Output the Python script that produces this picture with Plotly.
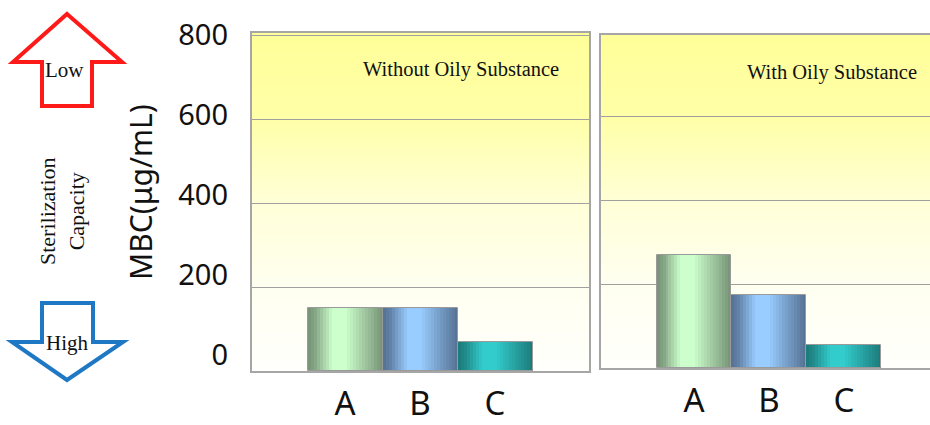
import plotly.graph_objects as go

# ---- data -------------------------------------------------------------
categories = ["A", "B", "C"]
mbc_without_oil = [150, 150, 70]     # MBC (µg/mL), no oily substance
mbc_with_oil = [270, 175, 55]        # MBC (µg/mL), with oily substance
y_ticks = [0, 200, 400, 600, 800]
panel_titles = ["Without Oily Substance", "With Oily Substance"]

# ---- canvas helpers (pixel -> paper fraction) ------------------------
W, H = 930, 425


def px(x):
    return x / W


def py(y):
    return 1 - y / H


# ---- cylinder-like bar shading --------------------------------------
bar_dark = {"A": (118, 146, 118), "B": (84, 112, 146), "C": (28, 122, 122)}
bar_light = {"A": (204, 255, 204), "B": (153, 204, 255), "C": (51, 204, 204)}
shade_profile = [(0.0, 0.0), (0.1, 0.2), (0.33, 1.0), (0.5, 1.0),
                 (0.8, 0.4), (1.0, 0.0)]


def shade(u):
    for (u0, s0), (u1, s1) in zip(shade_profile, shade_profile[1:]):
        if u <= u1:
            return s0 + (s1 - s0) * (u - u0) / (u1 - u0)
    return shade_profile[-1][1]


def mix(c0, c1, t):
    return "rgb(%d,%d,%d)" % tuple(round(a + (b - a) * t) for a, b in zip(c0, c1))


N_STRIPS = 25
x_pos = list(range(len(categories)))

fig = go.Figure()

panels = [(mbc_without_oil, "x", "y"), (mbc_with_oil, "x2", "y2")]
for values, xa, ya in panels:
    for k in range(N_STRIPS):
        t = shade((k + 0.5) / N_STRIPS)
        w = min(1.6 / N_STRIPS, 1 - k / N_STRIPS)
        fig.add_trace(go.Bar(
            x=x_pos, y=values, width=w, offset=-0.5 + k / N_STRIPS,
            marker=dict(color=[mix(bar_dark[c], bar_light[c], t) for c in categories],
                        line_width=0),
            xaxis=xa, yaxis=ya, showlegend=False, hoverinfo="skip"))
    # outline of each bar
    fig.add_trace(go.Bar(
        x=x_pos, y=values, width=1, offset=-0.5,
        marker=dict(color="rgba(0,0,0,0)", line=dict(color="#9A9A9A", width=1)),
        customdata=categories, hovertemplate="%{customdata}: %{y}<extra></extra>",
        xaxis=xa, yaxis=ya, showlegend=False))

# carrier trace for the shared tick-label axis
fig.add_trace(go.Scatter(x=[], y=[], xaxis="x", yaxis="y3", showlegend=False))

# ---- vertical yellow-to-white panel backgrounds -----------------------
bg_stops = [(0.0, 252), (0.25, 240), (0.5, 215), (0.75, 168), (1.0, 153)]


def bg_color(f):
    for (f0, b0), (f1, b1) in zip(bg_stops, bg_stops[1:]):
        if f <= f1:
            b = b0 + (b1 - b0) * (f - f0) / (f1 - f0)
            return "rgb(255,255,%d)" % round(b)
    return "rgb(255,255,%d)" % bg_stops[-1][1]


N_BANDS = 70
shapes = []
for xr, yr in [("x domain", "y domain"), ("x2 domain", "y2 domain")]:
    for i in range(N_BANDS):
        f0 = i / N_BANDS
        f1 = min(1.0, (i + 1) / N_BANDS + 0.004)
        shapes.append(dict(type="rect", xref=xr, yref=yr, x0=0, x1=1, y0=f0, y1=f1,
                           fillcolor=bg_color((i + 0.5) / N_BANDS),
                           line_width=0, layer="below"))


# ---- "Low" / "High" arrows -------------------------------------------
def path(points):
    return "M " + " L ".join("%.5f,%.5f" % (px(x), py(y)) for x, y in points) + " Z"


up_arrow = [(67, 14), (122, 62), (92, 62), (92, 106), (42, 106), (42, 62), (13, 62)]
down_arrow = [(42, 303), (93, 303), (93, 342), (123, 342), (67, 380), (12, 342), (42, 342)]
shapes.append(dict(type="path", xref="paper", yref="paper", path=path(up_arrow),
                   fillcolor="white", line=dict(color="#FF1A1A", width=4)))
shapes.append(dict(type="path", xref="paper", yref="paper", path=path(down_arrow),
                   fillcolor="white", line=dict(color="#1F78C4", width=4)))

serif = "Liberation Serif"
sans = "Noto Sans"


def label(text, x, y, family, size, angle=0):
    return dict(text=text, x=px(x), y=py(y), xref="paper", yref="paper",
                xanchor="center", yanchor="middle", textangle=angle,
                showarrow=False, font=dict(family=family, size=size, color="#111"))


annotations = [
    label(panel_titles[0], 461, 69, serif, 20.5),
    label(panel_titles[1], 832, 72, serif, 20.5),
    label("MBC(μg/mL)", 140, 192, sans, 30, -90),
    label("Sterilization<br>Capacity", 62, 211, serif, 22, -90),
    label("Low", 64, 70, serif, 21),
    label("High", 67, 343, serif, 21),
]

frame = "#A6A6A6"
grid = "#A0A0A0"
x_common = dict(tickvals=x_pos, ticktext=categories, ticks="", showgrid=False,
                zeroline=False, showline=True, linecolor=frame, linewidth=1.5,
                mirror=True, ticklabelstandoff=3, automargin=False,
                tickfont=dict(family=sans, size=33, color="#111"))
y_common = dict(tickvals=y_ticks, showticklabels=False, ticks="", showgrid=True,
                gridcolor=grid, gridwidth=1, zeroline=False, showline=True,
                linecolor=frame, linewidth=1.5, automargin=False)

fig.update_layout(
    width=W, height=H,
    margin=dict(l=0, r=0, t=0, b=0, pad=0, autoexpand=False),
    paper_bgcolor="white", plot_bgcolor="rgba(0,0,0,0)",
    barmode="overlay", bargap=0,
    showlegend=False,
    xaxis=dict(domain=[px(252), px(589)], range=[-1.24, 3.253], anchor="y", **x_common),
    yaxis=dict(domain=[py(371), py(33)], range=[0, 805], anchor="x", mirror=True, **y_common),
    xaxis2=dict(domain=[px(601), 1.0], range=[-1.24, 3.147], anchor="y2", **x_common),
    yaxis2=dict(domain=[py(368), py(35)], range=[0, 793], anchor="x2", mirror=False, **y_common),
    yaxis3=dict(domain=[py(355), py(35)], range=[0, 800], anchor="free", position=px(228),
                tickvals=y_ticks, ticks="", showgrid=False, zeroline=False, showline=False,
                automargin=False,
                tickfont=dict(family=sans, size=29, color="#111")),
    shapes=shapes,
    annotations=annotations,
)

fig.write_html("out.html")
